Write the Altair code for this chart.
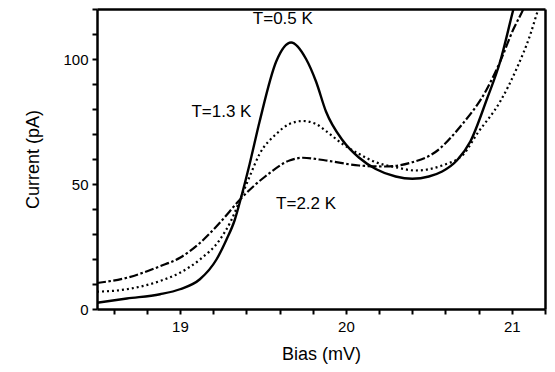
import altair as alt
import pandas as pd

# T = 0.5 K (solid)
solid_x = [18.5, 18.68, 18.88, 19.0, 19.12, 19.22, 19.28, 19.33, 19.37, 19.42, 19.48, 19.58, 19.67,
           19.76, 19.82, 19.88, 19.98, 20.08, 20.18, 20.3, 20.4, 20.5, 20.58, 20.67, 20.75,
           20.85, 20.93, 21.01, 21.05]
solid_y = [2.5, 4.2, 5.9, 7.9, 11.9, 19.8, 27.7, 35.6, 45, 58, 75, 99, 106.6,
           100, 91, 79, 67.5, 60.5, 56, 53, 52.1, 53, 55, 59.5, 67,
           84, 99, 120, 130]

# T = 1.3 K (dotted)
dot_x = [18.5, 18.68, 18.88, 19.0, 19.12, 19.24, 19.31, 19.37, 19.42, 19.48, 19.58, 19.66,
         19.74, 19.82, 19.88, 19.98, 20.08, 20.18, 20.3, 20.42, 20.58, 20.71, 20.79, 20.93,
         21.03, 21.11, 21.16, 21.2]
dot_y = [6.9, 7.9, 11.2, 14.5, 19.8, 27.7, 35.6, 45, 53, 62, 70, 74,
         75.2, 74, 71.2, 66, 62, 58.7, 56.7, 55.4, 57.4, 62, 70, 83,
         96.3, 109.5, 120, 127]

# T = 2.2 K (dash-dot)
dd_x = [18.5, 18.68, 18.88, 19.0, 19.12, 19.24, 19.365, 19.45, 19.51, 19.66, 19.74, 19.88, 20.08,
        20.24, 20.4, 20.54, 20.69, 20.85, 20.93, 21.01, 21.07, 21.12]
dd_y = [10.4, 12.5, 17.1, 20.5, 26.4, 34.5, 44, 49.5, 52.8, 59.4, 60.5, 59.4, 57.4,
        57, 58.7, 62.8, 73, 88, 99, 112, 120, 128]

label_text = ["T=0.5 K", "T=1.3 K", "T=2.2 K"]
label_x = [19.62, 19.25, 19.76]
label_y = [116, 78.7, 42]

x_ticks = [18.6, 18.8, 19.0, 19.2, 19.4, 19.6, 19.8, 20.0, 20.2, 20.4, 20.6, 20.8, 21.0, 21.2]
y_ticks = [0, 10, 20, 30, 40, 50, 60, 70, 80, 90, 100, 110, 120]

FONT = "Liberation Sans"

df_s = pd.DataFrame({"x": solid_x, "y": solid_y})
df_d = pd.DataFrame({"x": dot_x, "y": dot_y})
df_dd = pd.DataFrame({"x": dd_x, "y": dd_y})
df_lab = pd.DataFrame({"t": label_text, "x": label_x, "y": label_y})

xscale = alt.Scale(domain=[18.5, 21.2], nice=False, zero=False)
yscale = alt.Scale(domain=[0, 120], nice=False)

xaxis = alt.Axis(values=x_ticks, title="Bias (mV)",
                 labelExpr="abs(datum.value - round(datum.value)) < 0.01 ? format(datum.value, 'd') : ''",
                 labelOverlap=False, labelFlush=False,
                 grid=False, domainColor="black", domainWidth=2.5, tickColor="black",
                 tickWidth=2, tickSize=5, labelFont=FONT, labelFontSize=15, labelColor="black",
                 labelPadding=5, titleFont=FONT, titleFontSize=18, titleFontWeight="normal",
                 titleColor="black", titlePadding=11)
yaxis = alt.Axis(values=y_ticks, title="Current (pA)",
                 labelExpr="datum.value % 50 == 0 ? format(datum.value, 'd') : ''",
                 labelOverlap=False, labelFlush=False,
                 grid=False, domainColor="black", domainWidth=2.5, tickColor="black",
                 tickWidth=2, tickSize=5, labelFont=FONT, labelFontSize=15, labelColor="black",
                 labelPadding=4, titleFont=FONT, titleFontSize=18, titleFontWeight="normal",
                 titleColor="black", titlePadding=20)

frame_x = alt.Axis(orient="top", labels=False, ticks=False, grid=False, title=None,
                   domainColor="black", domainWidth=2.5)
frame_y = alt.Axis(orient="right", labels=False, ticks=False, grid=False, title=None,
                   domainColor="black", domainWidth=2.5)

def line(df, dash, width):
    kw = dict(color="black", strokeWidth=width, interpolate="monotone", clip=True)
    if dash:
        kw["strokeDash"] = dash
    return alt.Chart(df).mark_line(**kw).encode(
        x=alt.X("x:Q", scale=xscale, axis=xaxis),
        y=alt.Y("y:Q", scale=yscale, axis=yaxis),
    )

solid = line(df_s, None, 2.4)
dotted = line(df_d, [2, 3], 2.2)
dashdot = line(df_dd, [9, 2.5, 2.5, 2.5], 2.2)

labels = alt.Chart(df_lab).mark_text(font=FONT, fontSize=17, color="black").encode(
    x=alt.X("x:Q", scale=xscale, axis=xaxis),
    y=alt.Y("y:Q", scale=yscale, axis=yaxis),
    text="t:N",
)

frame = alt.Chart(df_lab).mark_point(opacity=0).encode(
    x=alt.X("x:Q", scale=xscale, axis=frame_x),
    y=alt.Y("y:Q", scale=yscale, axis=frame_y),
)

main = alt.layer(dashdot, dotted, solid, labels)

chart = alt.layer(main, frame).resolve_axis(x="independent", y="independent").properties(
    width=448, height=300,
    autosize=alt.AutoSizeParams(type="none"),
    padding={"left": 89, "top": 1, "right": 2, "bottom": 55},
).configure_view(stroke="black", strokeWidth=2.5).configure_axis(
    labelOverlap=False
).configure(background="white")

chart.save("out.html", embed_options={"renderer": "svg", "actions": False})
